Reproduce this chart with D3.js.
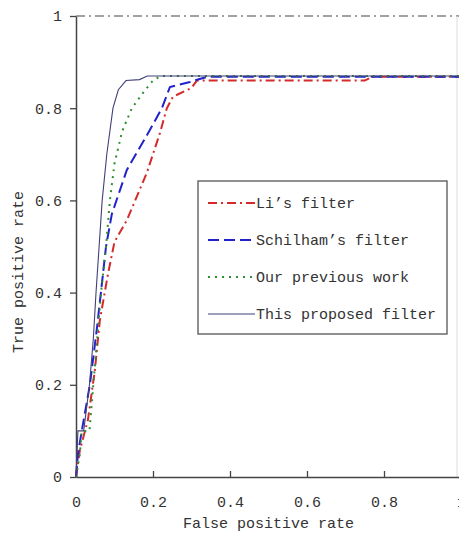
<!DOCTYPE html>
<html>
<head>
<meta charset="utf-8">
<script src="https://cdn.jsdelivr.net/npm/d3@7"></script>
<style>
  body { margin: 0; background: #fff; }
  text { font-family: "Liberation Mono", "DejaVu Sans Mono", monospace; fill: #333; }
</style>
</head>
<body>
<div id="chart"></div>
<script>
// ROC curves, values as [fpr, tpr]
var liFilter = [[0,0],[0.01,0.058],[0.031,0.124],[0.049,0.232],[0.062,0.34],[0.083,0.44],
  [0.1,0.51],[0.132,0.557],[0.184,0.66],[0.218,0.746],[0.236,0.8],[0.252,0.825],
  [0.3,0.844],[0.314,0.86],[0.75,0.86],[0.77,0.868],[1,0.868]];
var schilhamFilter = [[0,0],[0.005,0.05],[0.015,0.1],[0.036,0.2],[0.054,0.32],[0.07,0.44],
  [0.078,0.5],[0.093,0.57],[0.132,0.666],[0.19,0.75],[0.223,0.8],[0.244,0.846],
  [0.296,0.857],[0.34,0.868],[1,0.868]];
var previousWork = [[0,0],[0.01,0.05],[0.015,0.1],[0.035,0.1],[0.045,0.2],[0.055,0.3],
  [0.065,0.4],[0.078,0.5],[0.088,0.6],[0.1,0.68],[0.12,0.75],[0.145,0.8],[0.18,0.84],
  [0.2,0.86],[0.22,0.87],[1,0.87]];
var proposedFilter = [[0,0],[0.005,0.1],[0.02,0.1],[0.035,0.2],[0.045,0.3],[0.052,0.4],
  [0.06,0.5],[0.068,0.6],[0.08,0.7],[0.096,0.8],[0.11,0.84],[0.13,0.86],[0.165,0.862],
  [0.185,0.87],[1,0.87]];

var seriesNames = ["Li\u2019s filter", "Schilham\u2019s filter", "Our previous work", "This proposed filter"];
var xTicks = [0, 0.2, 0.4, 0.6, 0.8, 1];
var yTicks = [0, 0.2, 0.4, 0.6, 0.8, 1];

var width = 459, height = 537;
var styles = [
  {color: "#d42a2a", dash: "9,4,2,4", w: 2},
  {color: "#2222cc", dash: "11,5", w: 2},
  {color: "#2f8f2f", dash: "2,5", w: 2},
  {color: "#40407a", dash: null, w: 1.1}
];
var data = [liFilter, schilhamFilter, previousWork, proposedFilter];

var svg = d3.select("#chart").append("svg")
  .attr("width", width).attr("height", height);

var x = d3.scaleLinear().domain([0, 1]).range([76, 461]);
var y = d3.scaleLinear().domain([0, 1]).range([477, 16]);

// top frame at tpr = 1 (dash-dot)
svg.append("line")
  .attr("x1", x(0)).attr("x2", x(1))
  .attr("y1", y(1)).attr("y2", y(1))
  .attr("stroke", "#444").attr("stroke-width", 1.2)
  .attr("stroke-dasharray", "9,4,2,4");

// faint right frame
svg.append("line")
  .attr("x1", 457).attr("x2", 457).attr("y1", y(1)).attr("y2", y(0))
  .attr("stroke", "#ddd").attr("stroke-width", 1);

var fmt = d => d === 0 ? "0" : d === 1 ? "1" : d3.format(".1f")(d);

var yAxis = svg.append("g")
  .attr("transform", `translate(${x(0)},0)`)
  .call(d3.axisLeft(y).tickValues(yTicks).tickFormat(fmt).tickSizeInner(6).tickSizeOuter(0).tickPadding(8));
var xAxis = svg.append("g")
  .attr("transform", `translate(0,${y(0)})`)
  .call(d3.axisBottom(x).tickValues(xTicks).tickFormat(fmt).tickSizeInner(-6).tickSizeOuter(0).tickPadding(19));

[xAxis, yAxis].forEach(g => {
  g.select(".domain").attr("stroke", "#444").attr("stroke-width", 1.5);
  g.selectAll(".tick line").attr("stroke", "#444").attr("stroke-width", 1.3);
  g.selectAll(".tick text").style("font-size", "15px").attr("fill", "#333");
});

var line = d3.line().x(d => x(d[0])).y(d => y(d[1]));

svg.append("g").selectAll("path")
  .data(data)
  .join("path")
    .attr("d", line)
    .attr("fill", "none")
    .attr("stroke", (d, i) => styles[i].color)
    .attr("stroke-width", (d, i) => styles[i].w)
    .attr("stroke-dasharray", (d, i) => styles[i].dash);

// axis titles
svg.append("text")
  .attr("x", (x(0) + x(1)) / 2).attr("y", 528)
  .attr("text-anchor", "middle").style("font-size", "15px")
  .text("False positive rate");
svg.append("text")
  .attr("transform", "translate(23,272) rotate(-90)")
  .attr("text-anchor", "middle").style("font-size", "15px")
  .text("True positive rate");

// legend
var legend = svg.append("g");
legend.append("rect")
  .attr("x", 198).attr("y", 181).attr("width", 249).attr("height", 153)
  .attr("fill", "#fff").attr("stroke", "#555").attr("stroke-width", 1.3);

var item = legend.selectAll("g.item")
  .data(seriesNames)
  .join("g").attr("class", "item")
  .attr("transform", (d, i) => `translate(0,${203 + i * 37})`);
item.append("line")
  .attr("x1", 208).attr("x2", 255)
  .attr("stroke", (d, i) => styles[i].color)
  .attr("stroke-width", (d, i) => styles[i].w)
  .attr("stroke-dasharray", (d, i) => styles[i].dash);
item.append("text")
  .attr("x", 256).attr("y", 5)
  .style("font-size", "15px")
  .text(d => d);
</script>
</body>
</html>
